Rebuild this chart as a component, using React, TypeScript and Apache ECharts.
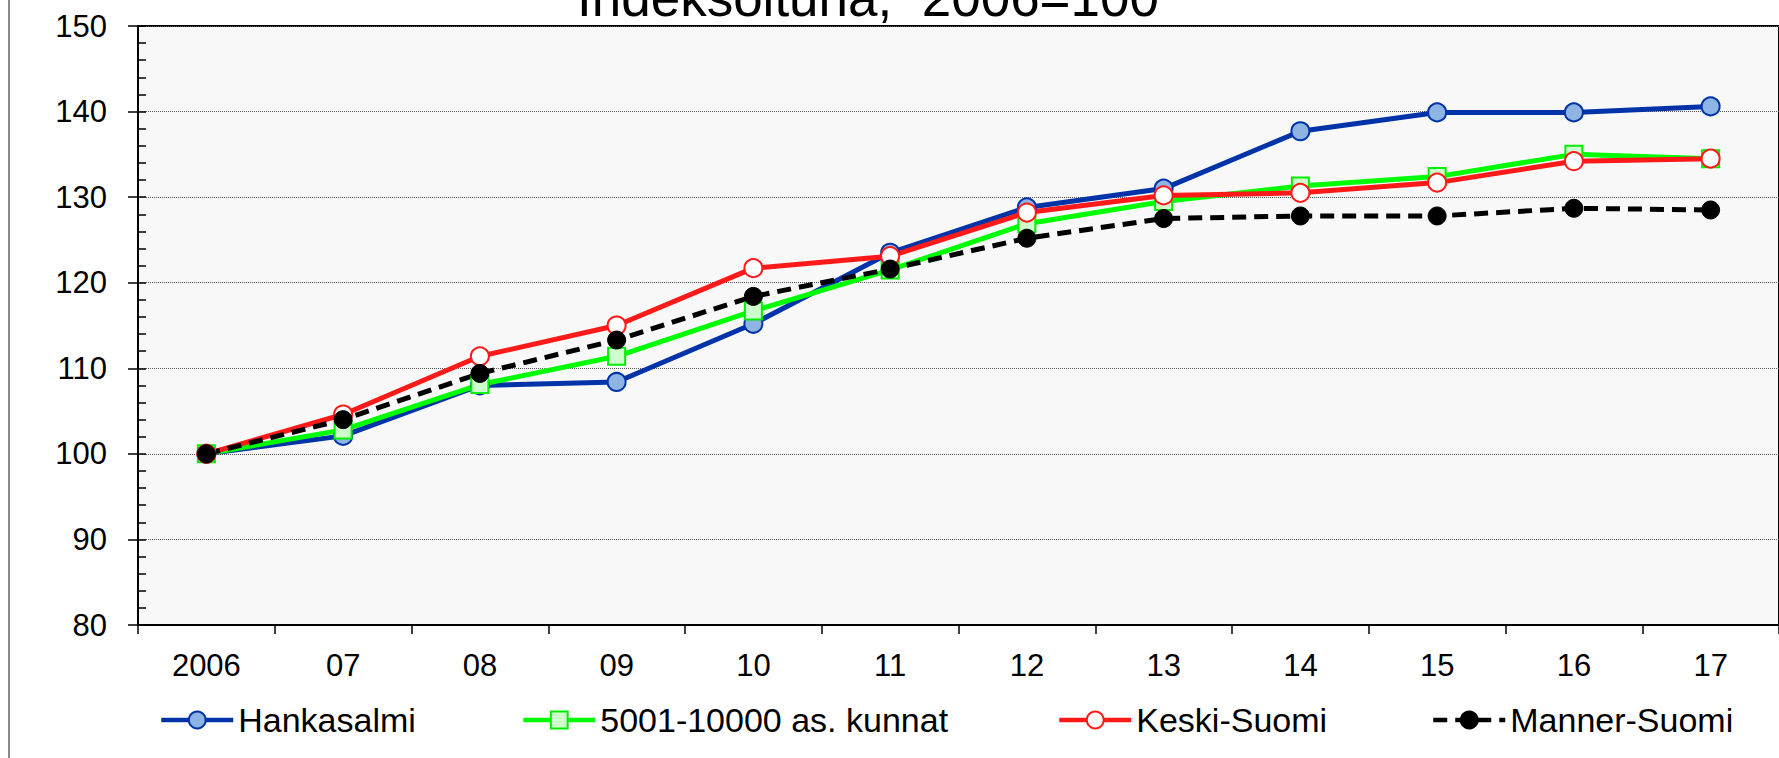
import React, { useEffect, useRef } from "react";
import * as echarts from "echarts";

const years = ["2006", "07", "08", "09", "10", "11", "12", "13", "14", "15", "16", "17"];
const hankasalmi = [100, 102.1, 108.0, 108.4, 115.2, 123.5, 128.8, 131.0, 137.7, 139.9, 139.9, 140.6];
const kunnat = [100, 102.8, 108.1, 111.4, 116.7, 121.5, 126.9, 129.5, 131.3, 132.4, 135.0, 134.5];
const keskiSuomi = [100, 104.6, 111.4, 115.0, 121.7, 123.1, 128.2, 130.2, 130.5, 131.7, 134.2, 134.5];
const mannerSuomi = [100, 104.0, 109.4, 113.3, 118.4, 121.6, 125.2, 127.5, 127.8, 127.8, 128.7, 128.5];
const seriesNames = ["Hankasalmi", "5001-10000 as. kunnat", "Keski-Suomi", "Manner-Suomi"];
const titleText = "Indeksoituna,  2006=100";

const FONT = '"Liberation Sans", Arial, sans-serif';

export default function App() {
  const ref = useRef<HTMLDivElement>(null);
  useEffect(() => {
    if (!ref.current) return;
    const chart = echarts.init(ref.current, null, { renderer: "svg" });
    const legendLefts = [159, 521, 1057, 1431];
    const option: any = {
      animation: false,
      backgroundColor: "#ffffff",
      textStyle: { fontFamily: FONT },
      grid: {
        left: 138,
        top: 26,
        width: 1653,
        height: 599,
        show: true,
        backgroundColor: "#f8f8f8",
        borderColor: "#000",
        borderWidth: 2,
      },
      xAxis: {
        type: "category",
        data: years,
        boundaryGap: true,
        axisLine: { lineStyle: { color: "#000", width: 2 } },
        axisTick: { show: true, interval: 0, length: 9, lineStyle: { color: "#000", width: 1.5 } },
        axisLabel: { interval: 0, margin: 25, color: "#000", fontSize: 31, fontFamily: FONT },
        splitLine: { show: false },
      },
      yAxis: [
        {
          type: "value",
          min: 80,
          max: 150,
          interval: 10,
          axisLine: { show: true, lineStyle: { color: "#000", width: 2 } },
          axisTick: { show: true, length: 10, lineStyle: { color: "#000", width: 1.5 } },
          axisLabel: { margin: 31, color: "#000", fontSize: 31, fontFamily: FONT },
          splitLine: { show: true, lineStyle: { color: "#555", width: 1, type: "dotted" } },
        },
        {
          type: "value",
          min: 80,
          max: 150,
          interval: 2,
          position: "left",
          offset: 0,
          axisLine: { show: false },
          axisTick: { show: true, inside: true, length: 8, lineStyle: { color: "#000", width: 1.5 } },
          axisLabel: { show: false },
          splitLine: { show: false },
        },
      ],
      legend: seriesNames.map((n, i) => ({
        data: [n],
        left: legendLefts[i],
        top: 703,
        padding: 0,
        itemWidth: 72,
        itemHeight: 21,
        itemGap: 5,
        lineStyle: { width: 4.5 },
        textStyle: { fontSize: 34, color: "#000", fontFamily: FONT },
      })),
      graphic: [
        {
          type: "text",
          x: 868,
          y: -3,
          style: {
            text: titleText,
            font: `53px ${FONT}`,
            fill: "#000",
            align: "center",
            verticalAlign: "middle",
          },
          z: 100,
        },
        {
          type: "line",
          shape: { x1: 9, y1: 0, x2: 9, y2: 758 },
          style: { stroke: "#888", lineWidth: 2 },
        },
      ],
      series: [
        {
          name: seriesNames[0],
          type: "line",
          data: hankasalmi,
          symbol: "circle",
          symbolSize: 18,
          showAllSymbol: true,
          lineStyle: { color: "#0033a8", width: 5 },
          itemStyle: { color: "#8db4e2", borderColor: "#0033a8", borderWidth: 2 },
        },
        {
          name: seriesNames[1],
          type: "line",
          data: kunnat,
          symbol: "rect",
          symbolSize: 17,
          showAllSymbol: true,
          lineStyle: { color: "#00ff00", width: 5 },
          itemStyle: { color: "#ccffcc", borderColor: "#00ee00", borderWidth: 2 },
        },
        {
          name: seriesNames[2],
          type: "line",
          data: keskiSuomi,
          symbol: "circle",
          symbolSize: 18,
          showAllSymbol: true,
          lineStyle: { color: "#ff1a1a", width: 5 },
          itemStyle: { color: "#ffffff", borderColor: "#ff1a1a", borderWidth: 2 },
        },
        {
          name: seriesNames[3],
          type: "line",
          data: mannerSuomi,
          symbol: "circle",
          symbolSize: 18,
          showAllSymbol: true,
          lineStyle: { color: "#000000", width: 5, type: [14, 8] },
          itemStyle: { color: "#000000", borderColor: "#000000", borderWidth: 1 },
        },
      ],
    };
    chart.setOption(option);
    return () => chart.dispose();
  }, []);
  return (
    <div
      ref={ref}
      style={{ position: "absolute", left: 0, top: 0, width: 1779, height: 758 }}
    />
  );
}
